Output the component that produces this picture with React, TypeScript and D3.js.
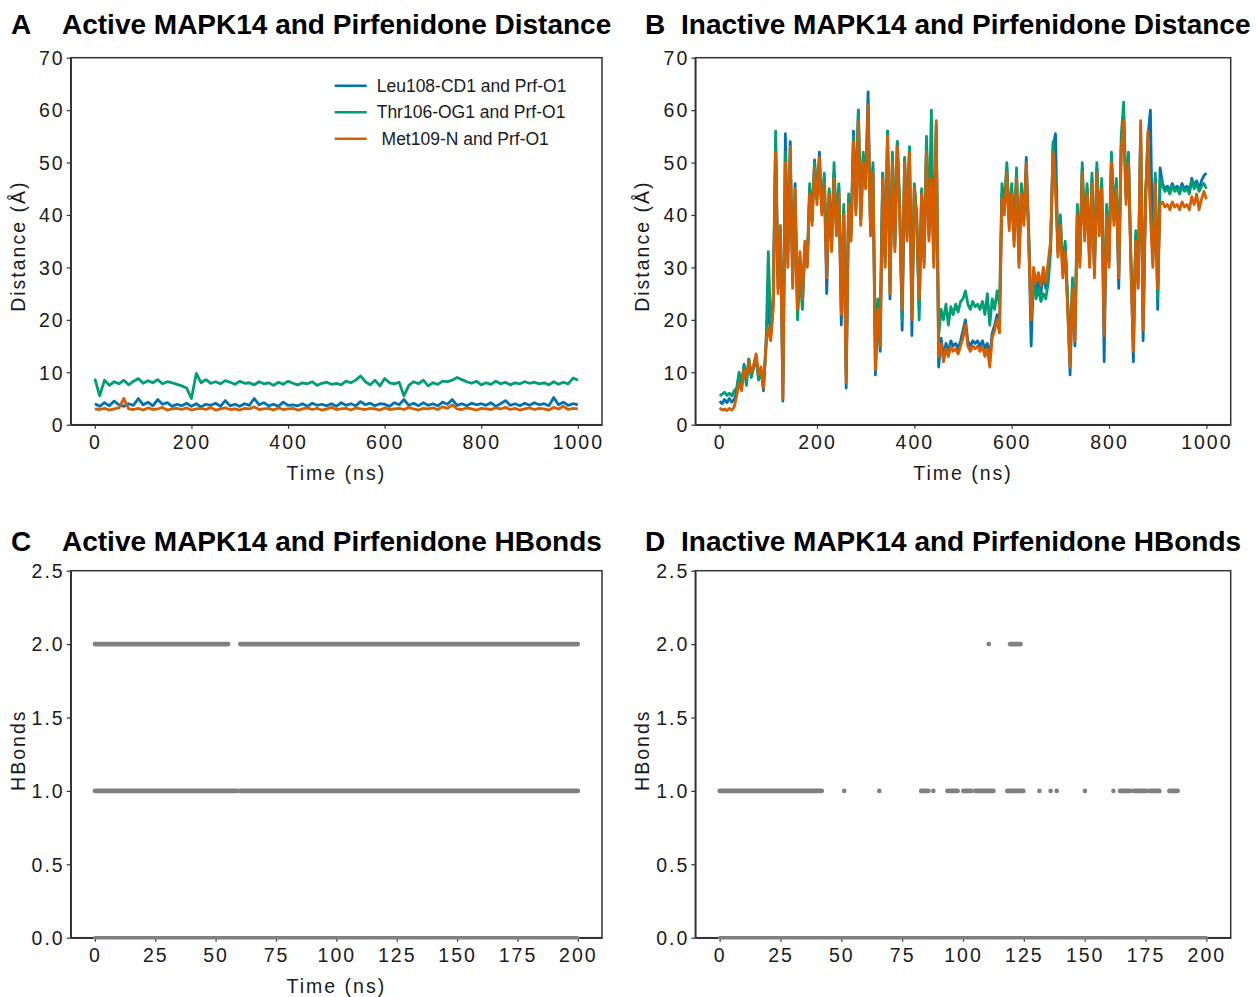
import React, { useRef, useEffect } from 'react'
import * as d3 from 'd3'

// Panel A: active MAPK14, distances (Å), one value every 10 ns from 0 to 1000
const activeStep = 10
const activeLeu = [
  4.0, 3.5, 4.2, 3.6, 4.5, 3.8, 3.5, 4.0, 3.7, 5.0, 3.8, 4.3, 3.6, 4.8, 3.9, 4.2, 3.5, 3.9, 3.6, 4.1,
  3.5, 4.0, 3.4, 3.9, 3.7, 4.1, 3.5, 4.6, 3.6, 3.9, 3.5, 4.0, 3.7, 5.0, 3.8, 4.2, 3.6, 3.9, 3.5, 4.3,
  3.7, 3.8, 3.6, 4.0, 3.5, 4.1, 3.7, 3.9, 3.6, 4.0, 3.5, 4.2, 3.7, 4.0, 3.6, 4.4, 3.8, 4.1, 3.6, 4.0,
  3.9, 3.5, 4.2, 3.8, 4.8, 3.7, 4.1, 3.6, 4.2, 3.7, 4.0, 3.6, 4.3, 3.9, 4.8, 3.7, 4.0, 3.6, 4.1, 3.8,
  4.0, 3.7, 4.2, 3.5, 4.0, 4.6, 3.7, 4.0, 3.6, 4.1, 3.7, 4.2, 3.8, 4.0, 3.6, 5.2, 3.8, 4.3, 3.7, 4.0,
  3.8,
]
const activeThr = [
  8.8, 5.5, 8.5, 7.5, 8.2, 7.8, 8.5, 7.6, 8.3, 8.8, 7.9, 8.4, 8.0, 8.6, 7.8, 8.2, 8.0, 7.7, 7.4, 7.0,
  5.0, 9.8, 8.0, 8.6, 7.9, 8.2, 7.8, 8.4, 8.1, 7.7, 8.3, 7.9, 8.0, 7.6, 8.2, 7.8, 8.0, 7.5, 8.1, 7.7,
  8.3, 7.9, 7.6, 8.0, 7.8, 8.2, 7.5, 7.9, 8.1, 7.7, 7.9, 7.6, 8.3, 8.0, 8.5, 9.3, 8.2, 7.6, 8.5, 7.4,
  8.8, 8.0, 7.8, 8.1, 5.5, 7.5, 8.2, 7.8, 8.5, 7.4, 8.0, 7.7, 8.3, 8.2, 8.5, 9.0, 8.6, 8.2, 7.9, 8.3,
  7.6, 8.0, 7.7, 8.3, 7.8, 8.1, 7.6, 8.0, 7.8, 8.2, 7.9, 8.1, 7.8, 8.0, 7.6, 8.2, 7.7, 8.1, 7.8, 8.9,
  8.5,
]
const activeMet = [
  3.0, 2.9, 3.1, 2.8, 3.0, 3.2, 5.0, 3.0, 2.9, 3.1, 2.8, 3.2, 2.9, 3.0, 3.3, 2.8, 3.0, 3.1, 2.9, 3.2,
  2.8, 3.0, 3.1, 2.9, 3.3, 2.8, 3.0, 3.2, 2.9, 3.0, 2.8, 3.1, 3.0, 3.4, 2.9, 3.0, 3.1, 2.8, 3.2, 2.9,
  3.0, 3.1, 2.8, 3.0, 3.2, 2.9, 3.1, 2.8, 3.0, 3.3, 2.9, 3.0, 3.1, 2.8, 3.2, 3.0, 2.9, 3.1, 3.0, 2.8,
  3.2, 2.9, 3.0, 3.1, 2.9, 3.3, 3.0, 2.8, 3.1, 3.0, 3.2, 2.9, 3.4, 3.1, 3.8, 3.0, 2.9, 3.2, 3.0, 2.8,
  3.1, 3.0, 2.9, 3.2, 3.0, 3.3, 2.9, 3.1, 2.8, 3.0, 3.2, 2.9, 3.1, 3.0, 2.8, 3.3, 3.0, 3.5, 2.9, 3.1,
  3.0,
]

// Panel B: inactive MAPK14, distances (Å), one value every 5 ns from 0 to 1000
const inactiveStep = 5
const inactiveLeu = [
  4.5, 4.0, 4.8, 4.2, 5.0, 4.3, 4.8, 6.5, 9.5, 7.0, 11.5, 8.5, 12.5, 9.5, 11.0, 13.0, 9.0, 10.5, 6.5, 15.0,
  24.0, 17.0, 23.0, 54.0, 26.0, 37.0, 4.5, 55.5, 31.0, 54.0, 27.0, 46.0, 21.0, 32.0, 23.0, 34.0, 30.5, 45.0, 39.0, 50.5,
  43.0, 52.0, 40.5, 47.0, 25.0, 44.5, 34.0, 48.0, 37.0, 45.0, 19.0, 41.0, 7.0, 43.0, 36.0, 56.0, 41.0, 60.0, 39.0, 51.0,
  46.0, 63.5, 37.0, 49.0, 9.5, 21.0, 14.0, 48.0, 31.0, 56.0, 24.0, 51.0, 34.0, 54.0, 41.0, 18.0, 50.5, 36.0, 53.0, 17.0,
  45.5, 39.0, 22.0, 44.5, 31.0, 53.0, 36.0, 48.0, 31.0, 57.0, 11.0, 16.5, 13.0, 15.5, 14.0, 16.0, 15.0, 15.5, 14.5, 16.0,
  18.0, 20.0, 16.0, 15.0, 16.0, 15.5, 16.0, 15.0, 16.0, 14.5, 15.5, 13.0, 17.5, 19.0, 21.0, 18.5, 44.0, 41.0, 49.0, 38.0,
  45.0, 35.0, 48.0, 31.0, 45.0, 39.0, 51.0, 36.0, 15.0, 29.0, 25.5, 28.0, 25.0, 29.0, 26.0, 30.0, 34.0, 53.0, 55.5, 33.0,
  39.0, 29.0, 34.0, 23.0, 9.5, 27.0, 15.0, 41.0, 31.0, 49.0, 36.0, 45.0, 31.0, 47.0, 29.0, 49.0, 37.0, 46.0, 12.0, 41.0,
  31.0, 51.0, 39.0, 46.0, 26.0, 53.0, 59.0, 43.0, 51.0, 31.0, 12.0, 36.0, 27.0, 57.0, 16.0, 43.0, 55.0, 60.0, 31.0, 47.0,
  22.0, 49.0, 46.0, 45.0, 45.5, 44.5, 46.0, 45.0, 45.5, 44.5, 46.0, 45.0, 45.5, 44.5, 47.0, 45.5, 46.5, 45.0, 46.5, 47.5,
  48.0,
]
const inactiveThr = [
  5.5, 5.8, 6.2, 5.6, 6.0, 5.5, 6.5, 7.0, 10.0, 8.0, 11.0, 7.5, 12.5, 9.0, 11.0, 12.5, 8.5, 10.0, 7.5, 14.0,
  33.0, 18.0, 24.0, 56.0, 28.0, 36.0, 8.0, 52.0, 33.0, 51.0, 29.0, 43.0, 20.0, 30.0, 22.0, 33.0, 31.0, 46.0, 40.0, 50.0,
  44.0, 49.0, 41.0, 48.0, 32.0, 45.0, 35.0, 50.0, 38.0, 46.0, 23.0, 42.0, 10.0, 44.0, 37.0, 55.0, 42.0, 60.0, 40.0, 52.0,
  47.0, 58.0, 38.0, 50.0, 14.0, 24.0, 22.0, 48.0, 32.0, 56.0, 27.0, 52.0, 35.0, 54.0, 42.0, 20.0, 51.0, 37.0, 53.0, 22.0,
  46.0, 40.0, 20.0, 45.0, 32.0, 55.0, 38.0, 60.0, 33.0, 56.0, 17.0, 22.0, 20.0, 23.0, 19.0, 22.5, 21.0, 23.0, 21.5, 23.5,
  24.0, 25.5, 23.0, 22.0, 23.5, 22.5, 23.0, 22.0, 23.5, 21.0, 25.0, 19.0, 24.0, 22.0, 25.5, 23.0, 46.0, 42.0, 50.0, 39.0,
  46.0, 36.0, 49.0, 32.0, 46.0, 40.0, 48.0, 37.0, 22.0, 28.0, 24.0, 26.0, 23.5, 25.0, 24.0, 27.0, 33.0, 54.0, 47.0, 34.0,
  40.0, 30.0, 35.0, 24.0, 14.0, 28.0, 19.0, 42.0, 32.0, 50.0, 37.0, 46.0, 32.0, 48.0, 30.0, 50.0, 38.0, 47.0, 20.0, 42.0,
  33.0, 52.0, 40.0, 47.0, 30.0, 55.0, 61.5, 44.0, 52.0, 32.0, 18.0, 37.0, 28.0, 55.0, 20.0, 44.0, 53.0, 42.0, 32.0, 48.0,
  24.0, 47.0, 45.5, 44.5, 45.0, 44.0, 45.5, 44.5, 45.0, 44.0, 45.5, 44.5, 45.0, 44.0, 46.5, 45.0, 46.0, 44.5, 45.5, 46.0,
  45.0,
]
const inactiveMet = [
  3.2, 2.8, 3.0, 2.7, 3.1, 2.8, 3.4, 5.5, 8.0, 6.5, 10.5, 9.0, 12.0, 10.0, 11.5, 13.5, 9.5, 11.0, 7.0, 15.0,
  18.5, 16.0, 22.0, 52.0, 25.0, 38.0, 5.0, 50.0, 30.0, 53.0, 26.0, 45.0, 22.0, 33.0, 24.0, 35.0, 30.0, 44.0, 38.0, 49.0,
  42.0, 51.0, 40.0, 46.0, 28.0, 44.0, 33.0, 47.0, 36.0, 44.0, 21.0, 40.0, 8.0, 42.0, 35.0, 54.0, 40.0, 58.0, 38.0, 50.0,
  45.0, 61.0, 36.0, 48.0, 10.5, 22.0, 15.0, 47.0, 30.0, 55.0, 25.0, 50.0, 33.0, 53.0, 40.0, 22.0, 50.0, 35.0, 52.0, 20.0,
  45.0, 38.0, 24.0, 44.0, 30.0, 52.0, 35.0, 47.0, 30.0, 58.0, 13.0, 15.5, 12.0, 14.5, 13.0, 15.0, 14.0, 14.5, 13.5, 15.0,
  16.5, 19.0, 15.0, 14.0, 15.0, 14.5, 15.0, 14.0, 15.0, 13.0, 14.5, 11.0, 16.5, 18.0, 20.0, 17.5, 43.0, 40.0, 48.0, 37.0,
  44.0, 34.0, 47.0, 30.0, 44.0, 38.0, 50.0, 35.0, 20.0, 30.0, 27.0, 29.0, 26.5, 30.0, 27.0, 31.0, 35.0, 52.0, 45.0, 32.0,
  38.0, 28.0, 33.0, 22.0, 11.0, 26.0, 16.0, 40.0, 30.0, 48.0, 35.0, 44.0, 30.0, 46.0, 28.0, 48.0, 36.0, 45.0, 17.0, 40.0,
  30.0, 50.0, 38.0, 45.0, 28.0, 52.0, 58.0, 42.0, 50.0, 30.0, 14.0, 35.0, 26.0, 58.0, 18.0, 42.0, 56.0, 40.0, 30.0, 46.0,
  26.0, 42.0, 42.5, 41.5, 42.0, 41.0, 42.5, 41.5, 42.0, 41.0, 42.5, 41.5, 42.0, 41.0, 43.5, 42.0, 44.0, 41.0, 43.0, 44.5,
  43.0,
]

const seriesNames = ['Leu108-CD1 and Prf-O1', 'Thr106-OG1 and Prf-O1', ' Met109-N and Prf-O1']
const seriesColors = ['#0072B2', '#009E73', '#D55E00']

// Panels C and D: hydrogen bond counts, as runs [start ns, end ns] at each count
const activeHb = [
  { count: 0, runs: [[0, 200]] },
  { count: 1, runs: [[0, 58.8], [60, 200]] },
  { count: 2, runs: [[0, 55.2], [60.2, 200]] },
]
const inactiveHb = [
  { count: 0, runs: [[0, 200]] },
  {
    count: 1,
    runs: [
      [0, 42], [51.2, 51.2], [65.6, 65.6], [82.8, 85.8], [87.8, 87.8], [93.6, 97.8],
      [100.1, 103.5], [105, 112.5], [118.2, 124.8], [131.4, 131.4], [136, 136], [138.5, 138.5],
      [150.1, 150.1], [161.8, 161.8], [164.5, 168.6], [170, 175.2], [176.4, 180.7], [184.8, 188.2],
    ],
  },
  { count: 2, runs: [[110.6, 110.6], [119.3, 123.7]] },
]

const distTicks = [0, 10, 20, 30, 40, 50, 60, 70]
const timeTicks = [0, 200, 400, 600, 800, 1000]
const hbTicks = [0, 0.5, 1, 1.5, 2, 2.5]
const hbTimeTicks = [0, 25, 50, 75, 100, 125, 150, 175, 200]

const FONT = '"Liberation Sans", Arial, Helvetica, sans-serif'

type Panel = {
  letter: string
  title: string
  left: number
  top: number
  width: number
  height: number
  titleX: number
  letterX: number
  titleY: number
  xLabel: boolean
}

function drawAxes(g: any, x: any, y: any, p: Panel, xTicks: number[], xFmt: any, yTicks: number[], yFmt: any, yLabel: string, yLabelShift: number) {
  const tickStyle = (sel: any) => {
    sel.selectAll('.domain').attr('stroke', '#333').attr('stroke-width', 1.5)
    sel.selectAll('.tick line').attr('stroke', '#333').attr('stroke-width', 1.2)
    sel
      .selectAll('.tick text')
      .attr('fill', '#1a1a1a')
      .style('font-family', FONT)
      .style('font-size', '19.5px')
      .style('letter-spacing', '2px')
  }
  // frame
  g.append('rect')
    .attr('x', 0)
    .attr('y', 0)
    .attr('width', p.width)
    .attr('height', p.height)
    .attr('fill', 'none')
    .attr('stroke', '#333')
    .attr('stroke-width', 1.5)

  g.append('g')
    .attr('transform', `translate(0,${p.height})`)
    .call(d3.axisBottom(x).tickValues(xTicks).tickFormat(xFmt).tickSize(4).tickSizeOuter(0).tickPadding(6))
    .call(tickStyle)

  g.append('g')
    .call(d3.axisLeft(y).tickValues(yTicks).tickFormat(yFmt).tickSize(4).tickSizeOuter(0).tickPadding(2))
    .call(tickStyle)
    .selectAll('.tick text')
    .attr('dy', '0.35em')

  g.append('text')
    .attr('transform', `translate(${-46},${p.height / 2 + yLabelShift}) rotate(-90)`)
    .attr('text-anchor', 'middle')
    .attr('fill', '#1a1a1a')
    .style('font-family', FONT)
    .style('font-size', '19.5px')
    .style('letter-spacing', '2px')
    .text(yLabel)

  if (p.xLabel) {
    g.append('text')
      .attr('x', p.width / 2)
      .attr('y', p.height + 55)
      .attr('text-anchor', 'middle')
      .attr('fill', '#1a1a1a')
      .style('font-family', FONT)
      .style('font-size', '19.5px')
      .style('letter-spacing', '2px')
      .text('Time (ns)')
  }
}

function drawTitle(svg: any, p: Panel) {
  svg.append('text')
    .attr('x', p.letterX)
    .attr('y', p.titleY)
    .attr('fill', '#000')
    .style('font-family', FONT)
    .style('font-weight', 'bold')
    .style('font-size', '28px')
    .text(p.letter)
  svg.append('text')
    .attr('x', p.titleX)
    .attr('y', p.titleY)
    .attr('fill', '#000')
    .style('font-family', FONT)
    .style('font-weight', 'bold')
    .style('font-size', '28px')
    .text(p.title)
}

function drawDistance(svg: any, p: Panel, step: number, series: number[][], legend: boolean) {
  const g = svg.append('g').attr('transform', `translate(${p.left},${p.top})`)
  const x = d3.scaleLinear().domain([-50, 1050]).range([0, p.width])
  const y = d3.scaleLinear().domain([0, 70]).range([p.height, 0])

  const line = d3
    .line<number>()
    .x((d, i) => x(i * step))
    .y((d) => y(d))

  series.forEach((vals, i) => {
    g.append('path')
      .datum(vals)
      .attr('fill', 'none')
      .attr('stroke', seriesColors[i])
      .attr('stroke-width', 2.8)
      .attr('stroke-linejoin', 'round')
      .attr('d', line)
  })

  drawAxes(g, x, y, p, timeTicks, d3.format('d'), distTicks, d3.format('d'), 'Distance (Å)', 5)

  if (legend) {
    const lg = g.append('g').attr('transform', 'translate(264,28)')
    seriesNames.forEach((name, i) => {
      lg.append('line')
        .attr('x1', 0)
        .attr('x2', 32)
        .attr('y1', i * 26.5)
        .attr('y2', i * 26.5)
        .attr('stroke', seriesColors[i])
        .attr('stroke-width', 2.6)
      lg.append('text')
        .attr('x', 42)
        .attr('y', i * 26.5)
        .attr('dy', '0.35em')
        .attr('fill', '#1a1a1a')
        .style('font-family', FONT)
        .style('font-size', '17.5px')
        .style('white-space', 'pre')
        .text(name)
    })
  }
}

function drawHBonds(svg: any, p: Panel, rows: { count: number; runs: number[][] }[]) {
  const g = svg.append('g').attr('transform', `translate(${p.left},${p.top})`)
  const x = d3.scaleLinear().domain([-10, 210]).range([0, p.width])
  const y = d3.scaleLinear().domain([0, 2.5]).range([p.height, 0])

  drawAxes(g, x, y, p, hbTimeTicks, d3.format('d'), hbTicks, d3.format('.1f'), 'HBonds', -4)

  rows.forEach((row) => {
    g.selectAll(null)
      .data(row.runs)
      .enter()
      .append('line')
      .attr('x1', (d: number[]) => x(d[0]))
      .attr('x2', (d: number[]) => x(d[1]))
      .attr('y1', y(row.count))
      .attr('y2', y(row.count))
      .attr('stroke', '#808080')
      .attr('stroke-width', row.count === 0 ? 3.5 : 4.6)
      .attr('stroke-linecap', 'round')
  })
}

export default function App() {
  const ref = useRef<SVGSVGElement>(null)

  useEffect(() => {
    const svg = d3.select(ref.current)
    svg.selectAll('*').remove()

    const pA: Panel = { letter: 'A', title: 'Active MAPK14 and Pirfenidone Distance', left: 70.7, top: 57.7, width: 531.3, height: 367, letterX: 11, titleX: 62, titleY: 34, xLabel: true }
    const pB: Panel = { letter: 'B', title: 'Inactive MAPK14 and Pirfenidone Distance', left: 695.3, top: 57.7, width: 535.4, height: 367, letterX: 645, titleX: 681, titleY: 34, xLabel: true }
    const pC: Panel = { letter: 'C', title: 'Active MAPK14 and Pirfenidone HBonds', left: 70.7, top: 570.7, width: 531.3, height: 367, letterX: 11, titleX: 62, titleY: 551, xLabel: true }
    const pD: Panel = { letter: 'D', title: 'Inactive MAPK14 and Pirfenidone HBonds', left: 695.3, top: 570.7, width: 535.4, height: 367, letterX: 645, titleX: 681, titleY: 551, xLabel: false }

    drawDistance(svg, pA, activeStep, [activeLeu, activeThr, activeMet], true)
    drawDistance(svg, pB, inactiveStep, [inactiveLeu, inactiveThr, inactiveMet], false)
    drawHBonds(svg, pC, activeHb)
    drawHBonds(svg, pD, inactiveHb)
    ;[pA, pB, pC, pD].forEach((p) => drawTitle(svg, p))
  }, [])

  return (
    <svg
      ref={ref}
      width={1257}
      height={997}
      style={{ position: 'absolute', left: 0, top: 0, background: '#fff' }}
    />
  )
}
